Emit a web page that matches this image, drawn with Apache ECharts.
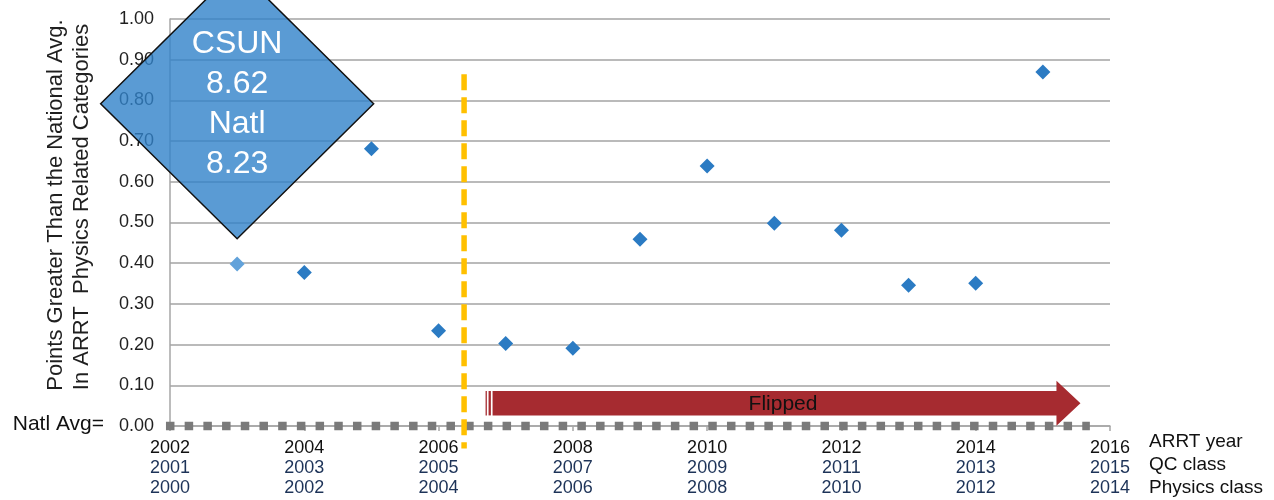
<!DOCTYPE html>
<html><head><meta charset="utf-8">
<script src="https://cdn.jsdelivr.net/npm/echarts@6/dist/echarts.min.js"></script>
<style>html,body{margin:0;padding:0;background:#fff}#c{width:1274px;height:500px}</style>
</head><body><div id="c"></div>
<script>
// ---- data ----
const years = [2003,2004,2005,2006,2007,2008,2009,2010,2011,2012,2013,2014,2015];
const pointsAboveNatl = [0.398,0.377,0.681,0.234,0.203,0.191,0.459,0.639,0.498,0.481,0.346,0.351,0.870];
const arrtYearTicks = ['2002','2004','2006','2008','2010','2012','2014','2016'];
const qcClassTicks = ['2001','2003','2005','2007','2009','2011','2013','2015'];
const physicsClassTicks = ['2000','2002','2004','2006','2008','2010','2012','2014'];
const yTickLabels = ['0.00','0.10','0.20','0.30','0.40','0.50','0.60','0.70','0.80','0.90','1.00'];
const rowNames = ['ARRT year','QC class','Physics class'];
const yAxisTitle = ['Points Greater Than the National Avg.','In ARRT  Physics Related Categories'];
const natlAvgLabel = 'Natl Avg=';
const natlAvgLine = [[2001.94, 0],[2015.70, 0]];
const calloutPos = [[2003, 0.792]];
const calloutLines = ['CSUN','8.62','Natl','8.23'];
const flippedArrow = [[2006.70, 2015.56, 0.056]]; // from year, to year, level
const flippedLabel = 'Flipped';
const splitLine = [[2006.38, 0.864, -0.055]]; // year, top, bottom

const FF = '"Liberation Sans", Arial, sans-serif';
const chart = echarts.init(document.getElementById('c'));

chart.setOption({
  animation: false,
  textStyle: {fontFamily: FF},
  grid: {left: 170, right: 164, top: 19, bottom: 74},
  xAxis: {
    type: 'value', min: 2002, max: 2016, interval: 2,
    splitLine: {show: false},
    axisLine: {show: true, onZero: false, lineStyle: {color: '#a6a6a6', width: 1.5}},
    axisTick: {show: true, length: 5, lineStyle: {color: '#a6a6a6', width: 1.5}},
    axisLabel: {
      margin: 12,
      formatter: v => {
        const i = Math.round((v - 2002) / 2);
        return '{a|' + arrtYearTicks[i] + '}\n{b|' + qcClassTicks[i] + '}\n{b|' + physicsClassTicks[i] + '}';
      },
      rich: {
        a: {fontSize: 18, lineHeight: 20, color: '#111111', fontFamily: FF},
        b: {fontSize: 18, lineHeight: 20, color: '#1d3358', fontFamily: FF}
      }
    }
  },
  yAxis: {
    type: 'value', min: 0, max: 1, interval: 0.1,
    axisLine: {show: true, lineStyle: {color: '#a6a6a6', width: 1.5}},
    axisTick: {show: false},
    splitLine: {show: true, lineStyle: {color: '#a3a3a3', width: 1.6}},
    axisLabel: {
      margin: 16, fontSize: 18, color: '#1f1f1f', fontFamily: FF,
      formatter: v => yTickLabels[Math.round(v * 10)]
    }
  },
  graphic: [
    {type: 'text', x: 56, y: 205, rotation: Math.PI / 2,
     style: {text: yAxisTitle[0], font: '22px ' + FF, fill: '#1f1f1f', textAlign: 'center', textVerticalAlign: 'middle', align: 'center', verticalAlign: 'middle'}},
    {type: 'text', x: 82, y: 207, rotation: Math.PI / 2,
     style: {text: yAxisTitle[1], font: '22px ' + FF, fill: '#1f1f1f', textAlign: 'center', textVerticalAlign: 'middle', align: 'center', verticalAlign: 'middle'}},
    {type: 'text', x: 104, y: 424,
     style: {text: natlAvgLabel, font: '21px ' + FF, fill: '#111', textAlign: 'right', textVerticalAlign: 'middle', align: 'right', verticalAlign: 'middle'}},
    {type: 'text', x: 1149, y: 442,
     style: {text: rowNames[0], font: '19px ' + FF, fill: '#111', textAlign: 'left', textVerticalAlign: 'middle', align: 'left', verticalAlign: 'middle'}},
    {type: 'text', x: 1149, y: 465,
     style: {text: rowNames[1], font: '19px ' + FF, fill: '#111', textAlign: 'left', textVerticalAlign: 'middle', align: 'left', verticalAlign: 'middle'}},
    {type: 'text', x: 1149, y: 488,
     style: {text: rowNames[2], font: '19px ' + FF, fill: '#111', textAlign: 'left', textVerticalAlign: 'middle', align: 'left', verticalAlign: 'middle'}}
  ],
  series: [
    {
      name: 'natl', type: 'line', data: natlAvgLine, symbol: 'none', clip: false, silent: true, z: 2,
      lineStyle: {color: '#7a7a7a', width: 8.5, type: [8.5, 10.2], cap: 'butt'}
    },
    {
      name: 'split', type: 'custom', data: splitLine, clip: false, silent: true, z: 3,
      renderItem: (params, api) => {
        const a = api.coord([api.value(0), api.value(1)]);
        const b = api.coord([api.value(0), api.value(2)]);
        return {type: 'line', shape: {x1: a[0], y1: a[1], x2: b[0], y2: b[1]},
                style: {stroke: '#ffc000', lineWidth: 5.5, lineDash: [16, 7]}};
      }
    },
    {
      name: 'flipped', type: 'custom', data: flippedArrow, clip: false, silent: true, z: 3,
      renderItem: (params, api) => {
        const p0 = api.coord([api.value(0), api.value(2)]);
        const p1 = api.coord([api.value(1), api.value(2)]);
        const x0 = p0[0], x1 = p1[0], yc = p0[1];
        const sh = 12.2, hh = 22.5, hl = 24, xs = x0 + 7;
        const c = '#a62b30';
        return {type: 'group', children: [
          {type: 'rect', shape: {x: x0, y: yc - sh, width: 1.3, height: 2 * sh}, style: {fill: c}},
          {type: 'rect', shape: {x: x0 + 3, y: yc - sh, width: 2.3, height: 2 * sh}, style: {fill: c}},
          {type: 'polygon', shape: {points: [[xs, yc - sh], [x1 - hl, yc - sh], [x1 - hl, yc - hh], [x1, yc],
              [x1 - hl, yc + hh], [x1 - hl, yc + sh], [xs, yc + sh]]}, style: {fill: c}},
          {type: 'text', x: (x0 + x1) / 2, y: yc + 1,
           style: {text: flippedLabel, font: '21px ' + FF, fill: '#111', textAlign: 'center', textVerticalAlign: 'middle', align: 'center', verticalAlign: 'middle'}}
        ]};
      }
    },
    {
      name: 'points', type: 'scatter', symbol: 'diamond', symbolSize: 15, z: 4,
      itemStyle: {color: '#2b7bc3', opacity: 1},
      data: years.map((y, i) => i === 0
        ? {value: [y, pointsAboveNatl[i]], itemStyle: {color: '#62a2da', opacity: 1}}
        : [y, pointsAboveNatl[i]])
    },
    {
      name: 'callout', type: 'scatter', symbol: 'diamond', symbolSize: [273, 270], clip: false, silent: true, z: 5,
      data: calloutPos,
      itemStyle: {color: 'rgba(49,130,201,0.8)', borderColor: '#111', borderWidth: 1.5, opacity: 1},
      label: {show: true, position: 'inside', formatter: calloutLines.join('\n'), color: '#fff',
              fontSize: 32, lineHeight: 40, fontFamily: FF, offset: [0, 1]}
    }
  ]
});
</script></body></html>
